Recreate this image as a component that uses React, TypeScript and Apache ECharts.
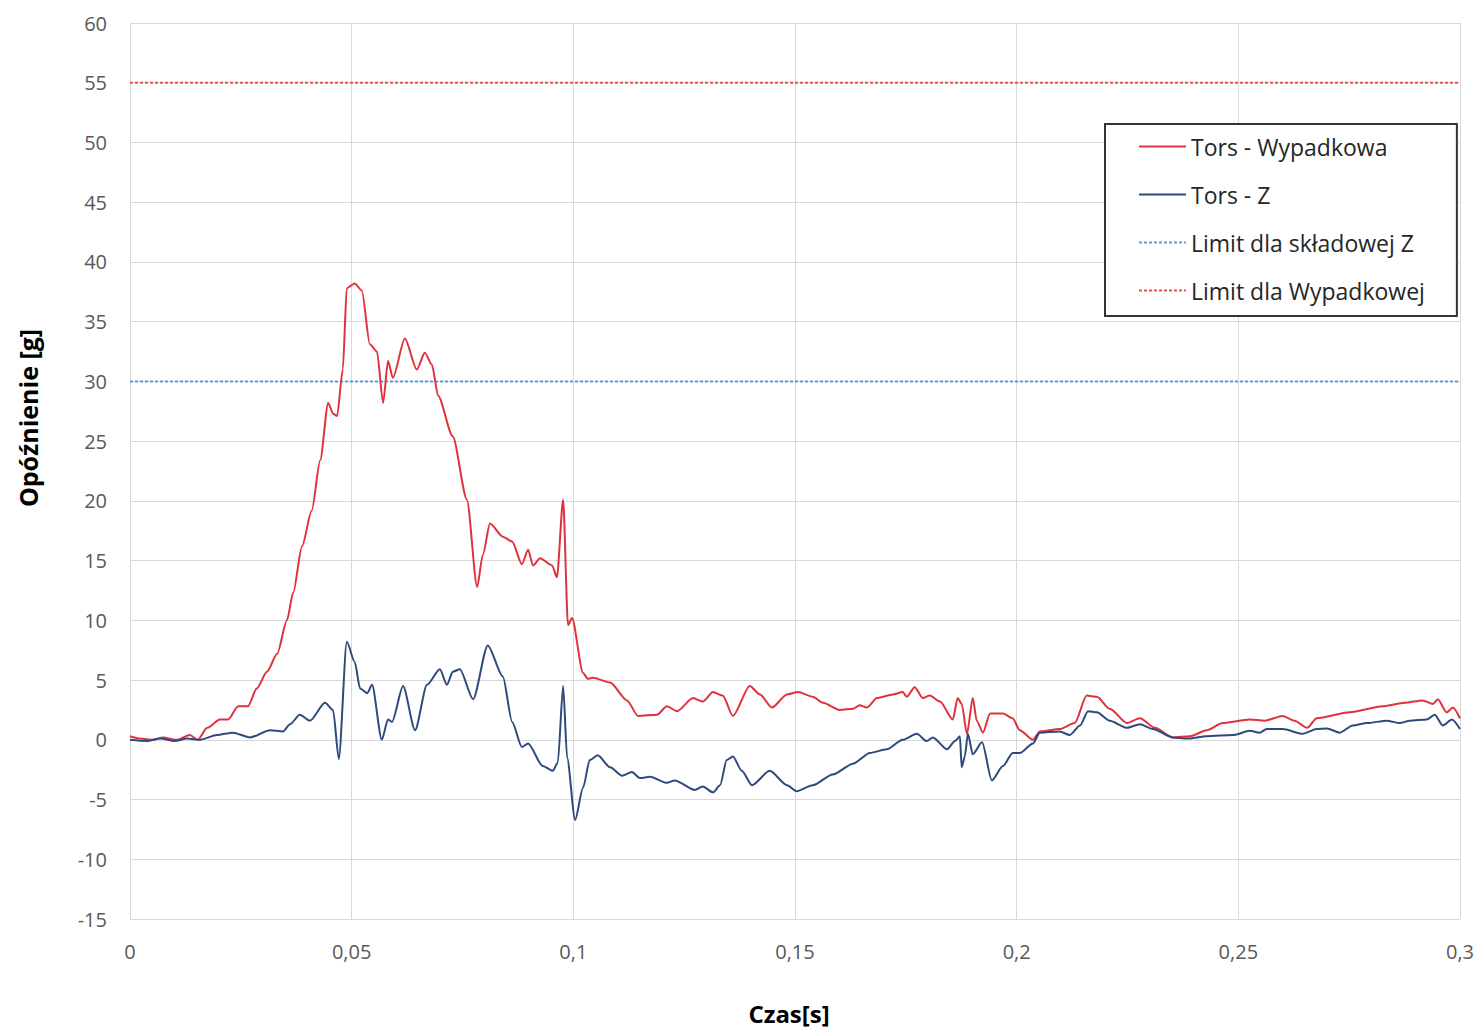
import React, { useEffect, useRef } from "react";
import * as echarts from "echarts";

// [time s, deceleration g]
const torsWypadkowa: [number, number][] = [
  [0, 0.3], [0.0023, 0.1], [0.0052, 0.0], [0.0074, 0.2], [0.0106, 0.0], [0.0135, 0.4], [0.0153, 0.0],
  [0.0174, 1.0], [0.0203, 1.7], [0.0221, 1.7], [0.0244, 2.8], [0.0266, 2.8], [0.0286, 4.3], [0.0309, 5.7],
  [0.0332, 7.2], [0.0354, 10.0], [0.0368, 12.3], [0.0388, 16.2], [0.041, 19.2], [0.0429, 23.4], [0.0447, 28.2],
  [0.0458, 27.3], [0.0467, 27.1], [0.048, 31.0], [0.0489, 37.8], [0.0507, 38.2], [0.0523, 37.6], [0.0541, 33.1],
  [0.0557, 32.5], [0.0571, 28.2], [0.0582, 31.7], [0.0593, 30.3], [0.062, 33.6], [0.0647, 31.0], [0.0665, 32.4],
  [0.0681, 31.4], [0.0695, 28.8], [0.0728, 25.4], [0.076, 20.1], [0.0783, 12.8], [0.0796, 15.5], [0.0812, 18.1],
  [0.0841, 17.0], [0.0862, 16.6], [0.0884, 14.7], [0.0898, 15.9], [0.0909, 14.6], [0.0925, 15.2], [0.0952, 14.6],
  [0.0963, 13.6], [0.0977, 20.1], [0.0988, 9.6], [0.0997, 10.2], [0.1022, 5.6], [0.1033, 5.1], [0.1044, 5.2],
  [0.1083, 4.8], [0.1121, 3.3], [0.1146, 2.0], [0.1189, 2.1], [0.1211, 2.8], [0.1234, 2.4], [0.127, 3.5],
  [0.1292, 3.2], [0.1315, 4.0], [0.1337, 3.7], [0.136, 2.0], [0.1398, 4.5], [0.1421, 3.8], [0.1448, 2.7],
  [0.1482, 3.8], [0.1507, 4.0], [0.154, 3.6], [0.1563, 3.1], [0.1601, 2.5], [0.1631, 2.6], [0.1646, 2.9],
  [0.1662, 2.7], [0.1685, 3.5], [0.1721, 3.8], [0.1743, 4.0], [0.1752, 3.6], [0.177, 4.4], [0.1788, 3.5],
  [0.1804, 3.7], [0.1827, 3.2], [0.1856, 1.7], [0.1867, 3.5], [0.1876, 3.0], [0.1888, 0.5], [0.1901, 3.5],
  [0.191, 1.6], [0.1924, 0.6], [0.194, 2.2], [0.1969, 2.2], [0.1991, 1.8], [0.2007, 0.8], [0.2037, 0.0],
  [0.2052, 0.7], [0.2097, 0.9], [0.2131, 1.4], [0.2158, 3.7], [0.2181, 3.6], [0.221, 2.6], [0.2249, 1.4],
  [0.2278, 1.8], [0.2312, 1.0], [0.2352, 0.2], [0.2391, 0.3], [0.2429, 0.8], [0.2465, 1.4], [0.2526, 1.7],
  [0.256, 1.6], [0.26, 2.0], [0.2627, 1.6], [0.2655, 1.0], [0.2677, 1.8], [0.2751, 2.3], [0.2826, 2.8],
  [0.2875, 3.1], [0.2916, 3.3], [0.2939, 3.0], [0.295, 3.4], [0.297, 2.3], [0.2984, 2.7], [0.3, 1.8],
];

const torsZ: [number, number][] = [
  [0, 0.0], [0.0038, -0.1], [0.0068, 0.1], [0.0101, -0.1], [0.0129, 0.1], [0.0158, 0.0], [0.0196, 0.4],
  [0.0232, 0.6], [0.0271, 0.2], [0.0316, 0.8], [0.0345, 0.7], [0.0361, 1.3], [0.0383, 2.1], [0.0406, 1.6],
  [0.044, 3.1], [0.0458, 2.5], [0.0471, -1.6], [0.0489, 8.2], [0.0507, 6.5], [0.0519, 4.3], [0.0535, 3.9],
  [0.0546, 4.6], [0.0568, 0.0], [0.0582, 1.7], [0.0591, 1.5], [0.0616, 4.5], [0.0643, 0.8], [0.067, 4.6],
  [0.0699, 5.9], [0.0715, 4.6], [0.0728, 5.7], [0.0744, 5.9], [0.0774, 3.4], [0.0807, 7.9], [0.0841, 5.3],
  [0.0862, 1.5], [0.0884, -0.6], [0.0898, -0.3], [0.0931, -2.2], [0.0954, -2.6], [0.0965, -1.9], [0.0977, 4.5],
  [0.0986, -1.5], [0.1004, -6.7], [0.1022, -4.0], [0.1037, -1.7], [0.1055, -1.3], [0.1083, -2.3], [0.111, -3.0],
  [0.1132, -2.7], [0.115, -3.2], [0.1173, -3.1], [0.1211, -3.6], [0.1229, -3.4], [0.1274, -4.2], [0.1292, -3.9],
  [0.1315, -4.4], [0.1331, -3.8], [0.1346, -1.7], [0.136, -1.4], [0.138, -2.6], [0.1403, -3.8], [0.1443, -2.6],
  [0.1482, -3.8], [0.1504, -4.3], [0.154, -3.8], [0.1585, -2.9], [0.1631, -2.0], [0.1669, -1.1], [0.1707, -0.8],
  [0.1743, 0.0], [0.1775, 0.5], [0.1797, -0.1], [0.1811, 0.2], [0.1843, -0.8], [0.1861, -0.1], [0.1872, 0.3],
  [0.1876, -2.3], [0.1883, -1.4], [0.189, 0.5], [0.1901, -1.2], [0.1922, -0.2], [0.1944, -3.4], [0.1969, -2.2],
  [0.1991, -1.1], [0.2007, -1.1], [0.2037, -0.3], [0.2052, 0.6], [0.2097, 0.7], [0.212, 0.4], [0.2143, 1.2],
  [0.2161, 2.4], [0.2181, 2.3], [0.221, 1.6], [0.2249, 1.0], [0.2278, 1.3], [0.2307, 0.9], [0.2352, 0.2],
  [0.2384, 0.1], [0.2429, 0.3], [0.2488, 0.4], [0.2526, 0.75], [0.2548, 0.6], [0.2564, 0.9], [0.26, 0.9],
  [0.2645, 0.5], [0.2677, 0.9], [0.27, 0.95], [0.2729, 0.6], [0.2758, 1.2], [0.279, 1.4], [0.2835, 1.6],
  [0.2864, 1.4], [0.2887, 1.6], [0.2925, 1.7], [0.2943, 2.1], [0.2961, 1.2], [0.2982, 1.7], [0.3, 0.9],
];

const limitZ: [number, number][] = [[0, 30], [0.3, 30]];
const limitWypadkowa: [number, number][] = [[0, 55], [0.3, 55]];

const seriesNames = ["Tors - Wypadkowa", "Tors - Z", "Limit dla składowej Z", "Limit dla Wypadkowej"];

const FONT = "'Open Sans', Lato, 'DejaVu Sans', sans-serif";

export default function App() {
  const ref = useRef<HTMLDivElement>(null);
  useEffect(() => {
    if (!ref.current) return;
    const chart = echarts.init(ref.current, undefined, { renderer: "svg" });
    const grid = "#D9D9D9";
    chart.setOption({
      animation: false,
      backgroundColor: "#ffffff",
      grid: { left: 130, right: 17, top: 23, bottom: 109, containLabel: false },
      xAxis: {
        type: "value",
        min: 0,
        max: 0.3,
        interval: 0.05,
        axisLine: { show: true, lineStyle: { color: grid, width: 1 } },
        axisTick: { show: false },
        splitLine: { show: true, lineStyle: { color: grid, width: 1 } },
        axisLabel: {
          color: "#595959",
          fontSize: 20,
          fontFamily: FONT,
          margin: 22,
          formatter: (v: number) => (v === 0 ? "0" : String(+v.toFixed(2)).replace(".", ",")),
        },
      },
      yAxis: {
        type: "value",
        min: -15,
        max: 60,
        interval: 5,
        axisLine: { show: true, lineStyle: { color: grid, width: 1 } },
        axisTick: { show: false },
        splitLine: { show: true, lineStyle: { color: grid, width: 1 } },
        axisLabel: { color: "#595959", fontSize: 20, fontFamily: FONT, margin: 23 },
      },
      legend: {
        orient: "vertical",
        left: 1105,
        top: 124,
        data: seriesNames,
        backgroundColor: "#ffffff",
        borderColor: "#333333",
        borderWidth: 2,
        padding: [11, 32, 14, 33],
        itemWidth: 47,
        itemHeight: 14,
        itemGap: 25,
        itemStyle: { opacity: 0, color: "transparent", borderWidth: 0 },
        textStyle: { fontSize: 23, lineHeight: 23, color: "#262626", fontFamily: FONT },
      },
      graphic: [
        {
          type: "text",
          x: 28,
          y: 418,
          rotation: Math.PI / 2,
          style: {
            text: "Opóźnienie [g]",
            fontSize: 25,
            fontWeight: "bold",
            fill: "#000",
            fontFamily: FONT,
            align: "center",
            verticalAlign: "middle",
          },
        },
        {
          type: "text",
          x: 789,
          y: 1013,
          style: {
            text: "Czas[s]",
            fontSize: 24,
            fontWeight: "bold",
            fill: "#000",
            fontFamily: FONT,
            align: "center",
            verticalAlign: "middle",
          },
        },
      ],
      series: [
        {
          name: seriesNames[0],
          type: "line",
          data: torsWypadkowa,
          symbol: "none",
          smooth: 0.25,
          smoothMonotone: "x",
          lineStyle: { color: "#E0323C", width: 2 },
          itemStyle: { color: "#E0323C" },
          z: 4,
        },
        {
          name: seriesNames[1],
          type: "line",
          data: torsZ,
          symbol: "none",
          smooth: 0.25,
          smoothMonotone: "x",
          lineStyle: { color: "#2E4A7D", width: 2 },
          itemStyle: { color: "#2E4A7D" },
          z: 5,
        },
        {
          name: seriesNames[2],
          type: "line",
          data: limitZ,
          symbol: "none",
          lineStyle: { color: "#5B9BD5", width: 2, type: [3, 2] },
          itemStyle: { color: "#5B9BD5" },
          z: 3,
        },
        {
          name: seriesNames[3],
          type: "line",
          data: limitWypadkowa,
          symbol: "none",
          lineStyle: { color: "#E8505A", width: 2, type: [3, 2] },
          itemStyle: { color: "#E8505A" },
          z: 3,
        },
      ],
    });
    return () => chart.dispose();
  }, []);
  return (
    <div
      ref={ref}
      style={{ position: "fixed", left: 0, top: 0, width: 1477, height: 1028, background: "#fff" }}
    />
  );
}
